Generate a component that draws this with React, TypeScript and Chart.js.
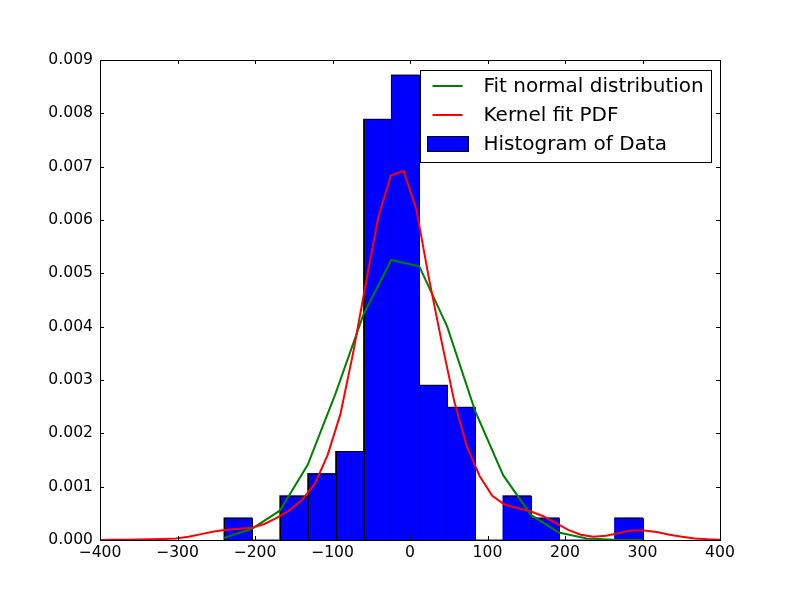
import React, { useEffect, useRef } from 'react';
import { Chart, registerables } from 'chart.js';

Chart.register(...registerables);

// Histogram (density) — bin centres and heights
const binCenters = [-222, -186, -150, -114, -78, -42, -6, 30, 66, 102, 138, 174, 210, 246, 282];
const histDensity = [0.000415, 0, 0.00083, 0.001245, 0.00166, 0.00789, 0.00872, 0.0029, 0.00249, 0, 0.00083, 0.000415, 0, 0, 0.000415];

// Fit normal distribution, evaluated at the bin edges
const normalX = [-240, -204, -168, -132, -96, -60, -24, 12, 48, 84, 120, 156, 192, 228, 264, 300];
const normalY = [0.00004, 0.00021, 0.00055, 0.00141, 0.00275, 0.00423, 0.00525, 0.00513, 0.004, 0.00242, 0.00122, 0.00047, 0.00014, 0.00003, 0.000005, 0.000001];

// Kernel fit PDF
const kdeX = [-400, -383.7, -367.3, -351.0, -334.7, -318.4, -302.0, -285.7, -269.4, -253.1, -236.7, -220.4, -204.1, -187.8, -171.4, -155.1, -138.8, -122.4, -106.1, -89.8, -73.5, -57.1, -40.8, -24.5, -8.2, 8.2, 24.5, 40.8, 57.1, 73.5, 89.8, 106.1, 122.4, 138.8, 155.1, 171.4, 187.8, 204.1, 220.4, 236.7, 253.1, 269.4, 285.7, 302.0, 318.4, 334.7, 351.0, 367.3, 383.7, 400];
const kdeY = [0.000002, 0.000003, 0.000005, 0.000008, 0.000012, 0.00002, 0.00003, 0.00006, 0.00011, 0.00016, 0.00019, 0.00021, 0.00023, 0.0003, 0.00042, 0.00056, 0.00076, 0.00106, 0.0016, 0.00236, 0.0035, 0.0048, 0.00606, 0.00684, 0.00692, 0.0062, 0.0049, 0.00372, 0.0026, 0.00175, 0.0012, 0.00083, 0.00066, 0.0006, 0.00054, 0.00045, 0.00032, 0.00019, 0.0001, 0.00006, 0.00008, 0.00013, 0.00018, 0.00018, 0.00015, 0.0001, 0.00006, 0.00003, 0.000015, 0.000007];

const xTicks = [-400, -300, -200, -100, 0, 100, 200, 300, 400];
const yTicks = [0, 0.001, 0.002, 0.003, 0.004, 0.005, 0.006, 0.007, 0.008, 0.009];

const legendLabels = ['Fit normal distribution', 'Kernel fit PDF', 'Histogram of Data'];

const FONT = '"DejaVu Sans", sans-serif';

const framePlugin = {
  id: 'frameTicks',
  afterDatasetDraw(chart: any, args: any) {
    const meta = args.meta;
    if (meta.type !== 'bar') return;
    const { ctx, scales } = chart;
    const half = (binCenters[1] - binCenters[0]) / 2;
    ctx.save();
    ctx.strokeStyle = '#000000';
    ctx.lineWidth = 1;
    binCenters.forEach((c, i) => {
      const l = Math.round(scales.x.getPixelForValue(c - half));
      const r = Math.round(scales.x.getPixelForValue(c + half));
      const t = Math.round(scales.y.getPixelForValue(histDensity[i]));
      const b = Math.round(scales.y.getPixelForValue(0));
      ctx.beginPath();
      ctx.rect(l + 0.5, t + 0.5, r - l, b - t);
      ctx.stroke();
    });
    ctx.restore();
  },
  afterDatasetsDraw(chart: any) {
    const { ctx, chartArea: a, scales } = chart;
    ctx.save();
    ctx.strokeStyle = '#000';
    ctx.lineWidth = 1;
    ctx.beginPath();
    for (const v of xTicks) {
      const px = Math.round(scales.x.getPixelForValue(v)) + 0.5;
      ctx.moveTo(px, a.bottom);
      ctx.lineTo(px, a.bottom - 4);
      ctx.moveTo(px, a.top);
      ctx.lineTo(px, a.top + 4);
    }
    for (const v of yTicks) {
      const py = Math.round(scales.y.getPixelForValue(v)) + 0.5;
      ctx.moveTo(a.left, py);
      ctx.lineTo(a.left + 4, py);
      ctx.moveTo(a.right, py);
      ctx.lineTo(a.right - 4, py);
    }
    ctx.stroke();
    ctx.strokeRect(Math.round(a.left) + 0.5, Math.round(a.top) + 0.5, Math.round(a.right - a.left), Math.round(a.bottom - a.top));
    ctx.restore();
  },
  afterDraw(chart: any) {
    const { ctx, chartArea: a } = chart;
    const right = a.right - 9;
    const left = right - 291;
    const top = a.top + 10;
    const h = 92;
    ctx.save();
    ctx.fillStyle = '#fff';
    ctx.strokeStyle = '#000';
    ctx.lineWidth = 1;
    ctx.fillRect(left + 0.5, top + 0.5, right - left, h);
    ctx.strokeRect(left + 0.5, top + 0.5, right - left, h);
    const rows = [top + 16, top + 45, top + 74];
    ctx.lineWidth = 2;
    ctx.strokeStyle = '#008000';
    ctx.beginPath();
    ctx.moveTo(left + 12.5, rows[0]);
    ctx.lineTo(left + 42.5, rows[0]);
    ctx.stroke();
    ctx.strokeStyle = '#ff0000';
    ctx.beginPath();
    ctx.moveTo(left + 12.5, rows[1]);
    ctx.lineTo(left + 42.5, rows[1]);
    ctx.stroke();
    ctx.lineWidth = 1;
    ctx.fillStyle = '#0000ff';
    ctx.strokeStyle = '#000';
    ctx.fillRect(left + 7.5, rows[2] - 7.5, 41, 15);
    ctx.strokeRect(left + 7.5, rows[2] - 7.5, 41, 15);
    ctx.fillStyle = '#000';
    ctx.font = '20px ' + FONT;
    ctx.textBaseline = 'middle';
    ctx.textAlign = 'left';
    legendLabels.forEach((t, i) => ctx.fillText(t, left + 63.5, rows[i] + 1));
    ctx.restore();
  },
};

export default function App() {
  const ref = useRef<HTMLCanvasElement | null>(null);
  useEffect(() => {
    if (!ref.current) return;
    const chart = new Chart(ref.current, {
      type: 'bar',
      data: {
        datasets: [
          {
            type: 'bar',
            label: legendLabels[2],
            data: binCenters.map((c, i) => ({ x: c, y: histDensity[i] })),
            backgroundColor: '#0000ff',
            borderWidth: 0,
            inflateAmount: 0.5,
            barPercentage: 1,
            categoryPercentage: 1,
            order: 3,
          } as any,
          {
            type: 'line',
            label: legendLabels[0],
            data: normalX.map((x, i) => ({ x, y: normalY[i] })),
            borderColor: '#008000',
            borderWidth: 2,
            pointRadius: 0,
            fill: false,
            tension: 0,
            order: 2,
          } as any,
          {
            type: 'line',
            label: legendLabels[1],
            data: kdeX.map((x, i) => ({ x, y: kdeY[i] })),
            borderColor: '#ff0000',
            borderWidth: 2,
            pointRadius: 0,
            fill: false,
            tension: 0,
            order: 1,
          } as any,
        ],
      },
      options: {
        animation: false,
        responsive: false,
        devicePixelRatio: 1,
        events: [],
        layout: { padding: { left: 0, top: 60, right: 80, bottom: 0 } },
        plugins: { legend: { display: false }, tooltip: { enabled: false } },
        scales: {
          x: {
            type: 'linear',
            offset: false,
            min: -400,
            max: 400,
            grid: { display: false, drawTicks: false },
            border: { display: false },
            afterBuildTicks: (s: any) => { s.ticks = xTicks.map((v) => ({ value: v })); },
            afterFit: (s: any) => { s.height = 60; },
            ticks: {
              padding: 4,
              color: '#000',
              font: { family: FONT, size: 15.6 },
              maxRotation: 0,
              autoSkip: false,
              callback: (v: any) => (Number(v) < 0 ? '\u2212' + Math.abs(Number(v)) : String(v)),
            },
          },
          y: {
            type: 'linear',
            min: 0,
            max: 0.009,
            grid: { display: false, drawTicks: false },
            border: { display: false },
            afterBuildTicks: (s: any) => { s.ticks = yTicks.map((v) => ({ value: v })); },
            afterFit: (s: any) => { s.width = 100; },
            ticks: {
              padding: 7,
              color: '#000',
              font: { family: FONT, size: 15.6 },
              autoSkip: false,
              callback: (v: any) => Number(v).toFixed(3),
            },
          },
        },
      } as any,
      plugins: [framePlugin],
    });
    return () => chart.destroy();
  }, []);
  return (
    <div style={{ position: 'fixed', left: 0, top: 0, width: 800, height: 600, background: '#fff' }}>
      <canvas ref={ref} width={800} height={600} style={{ width: 800, height: 600, display: 'block' }} />
    </div>
  );
}
